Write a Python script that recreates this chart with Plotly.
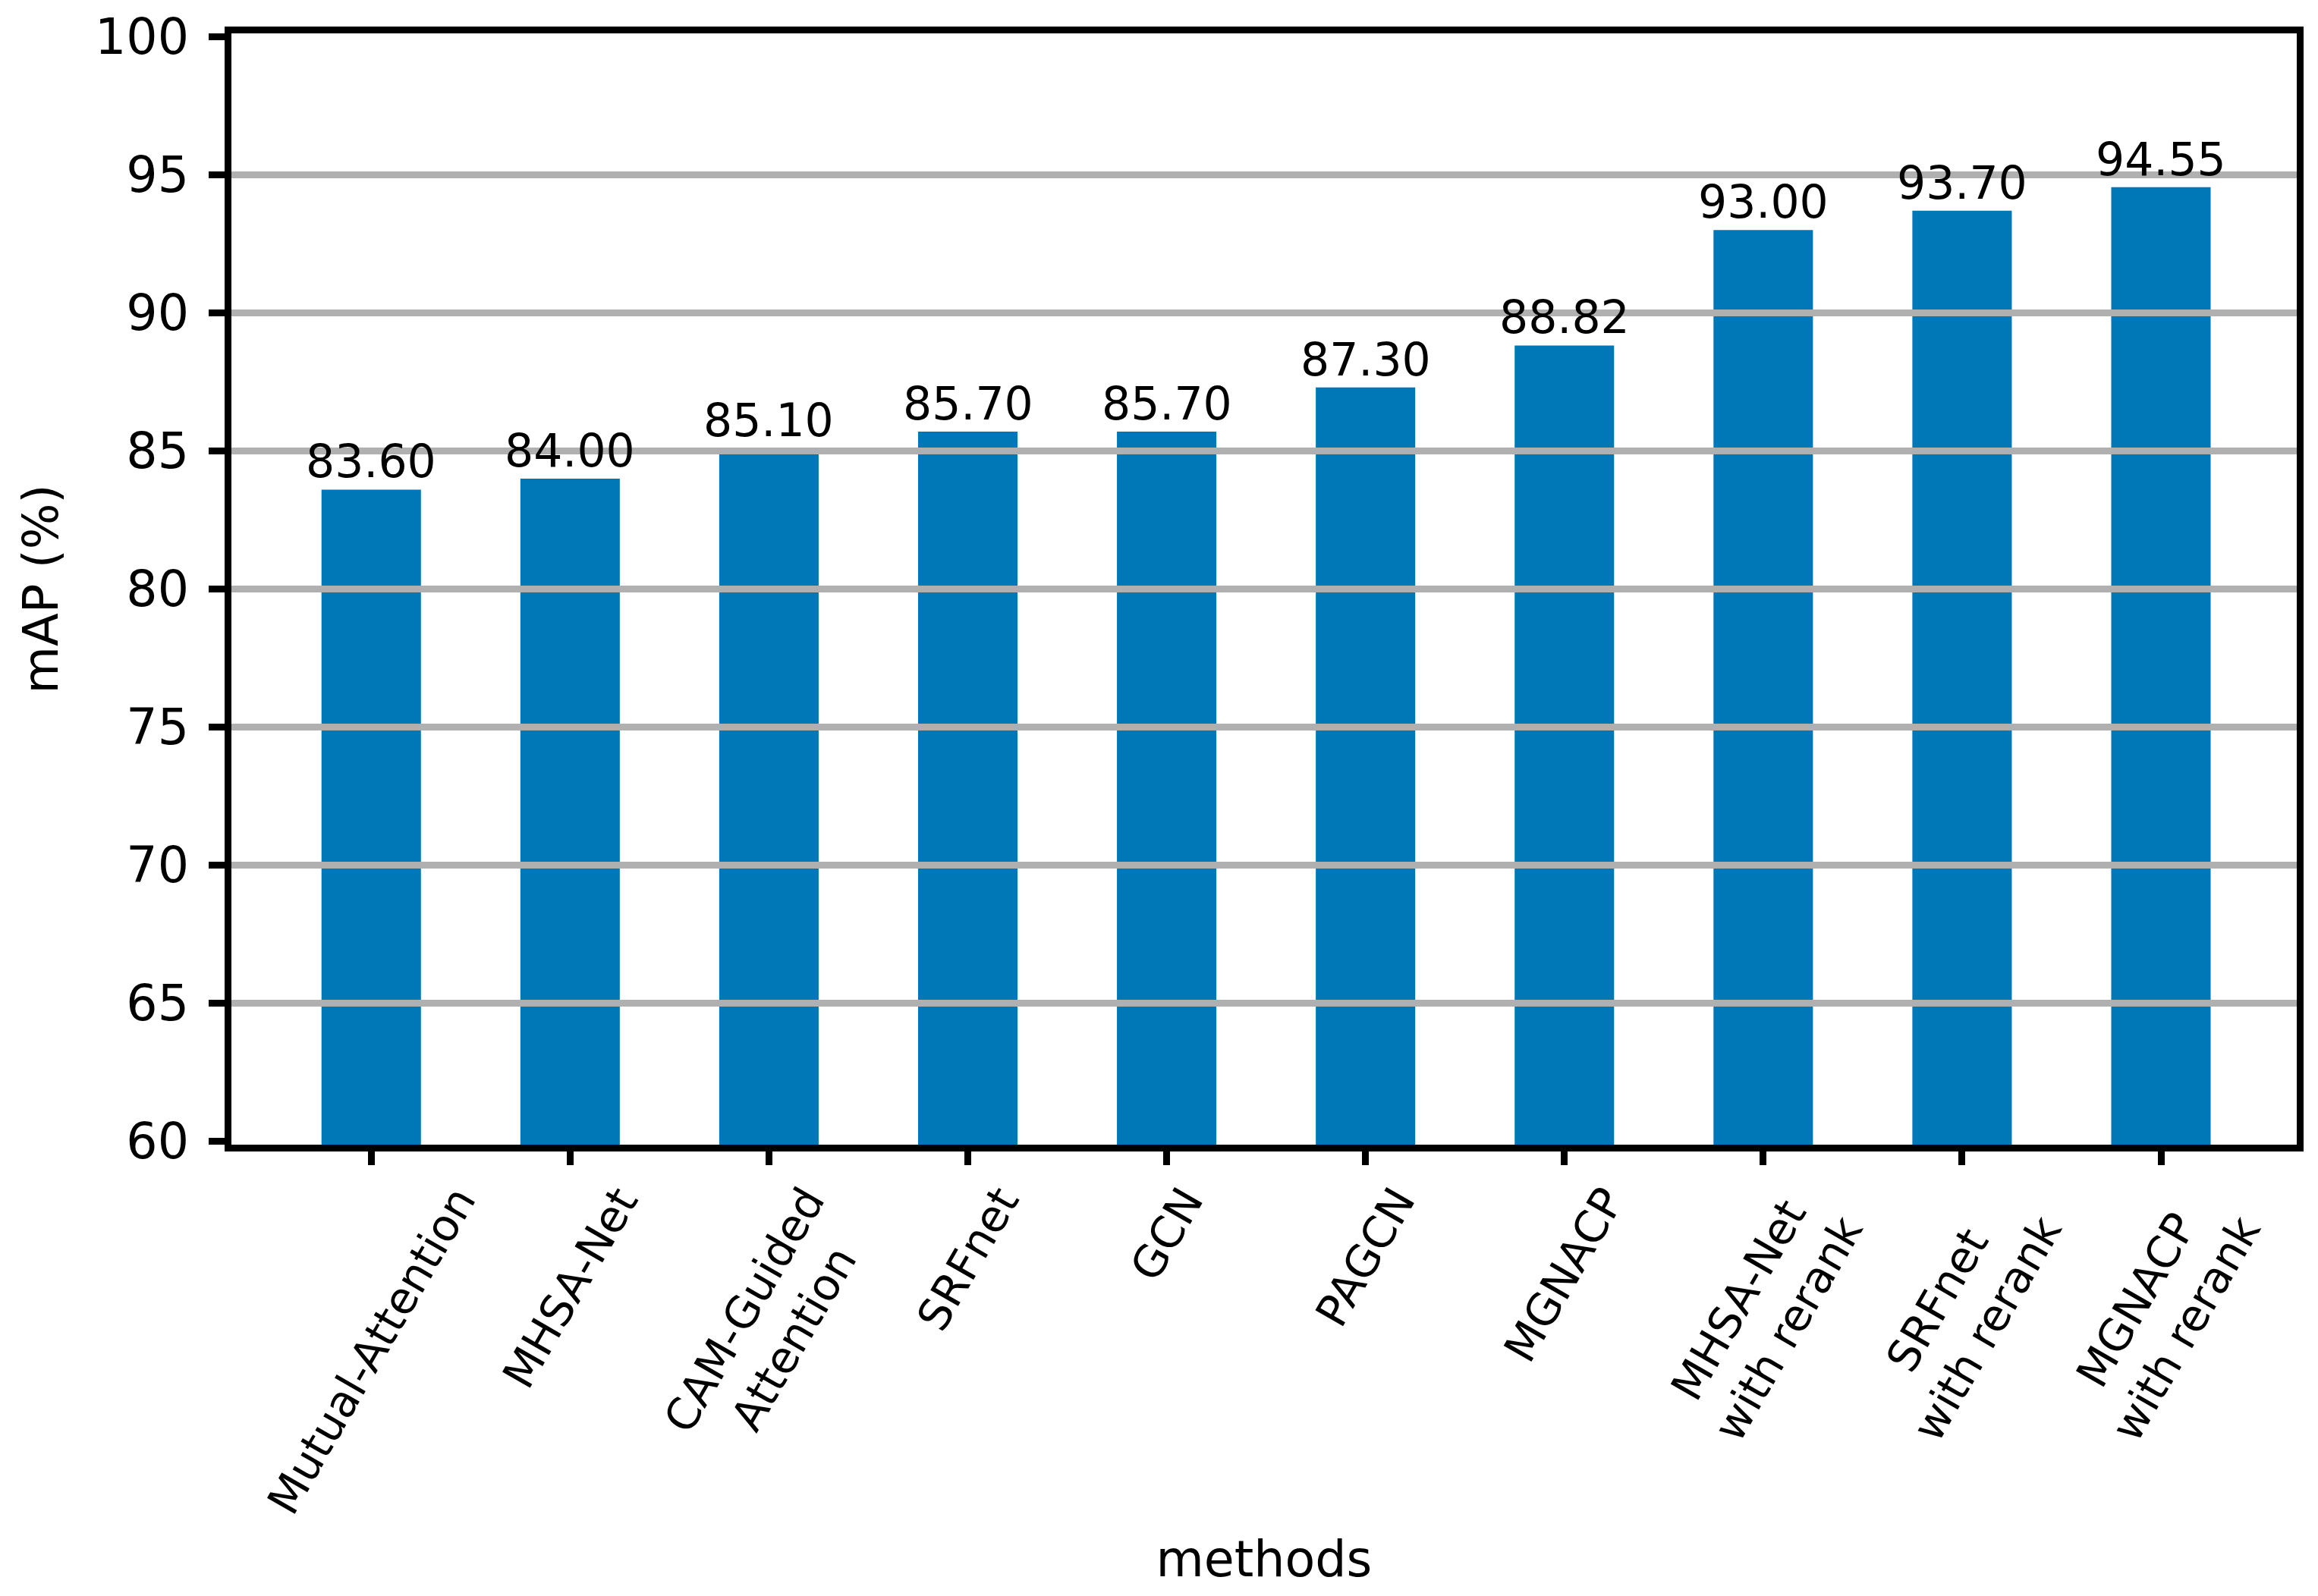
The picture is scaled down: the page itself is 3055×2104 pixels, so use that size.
import plotly.graph_objects as go

methods = ["Mutual-Attention", "MHSA-Net", "CAM-Guided<br>Attention", "SRFnet", "GCN",
           "PAGCN", "MGNACP", "MHSA-Net<br>with rerank", "SRFnet<br>with rerank",
           "MGNACP<br>with rerank"]
mAP = [83.60, 84.00, 85.10, 85.70, 85.70, 87.30, 88.82, 93.00, 93.70, 94.55]
y_ticks = [60, 65, 70, 75, 80, 85, 90, 95, 100]

FONT = "DejaVu Sans"
BAR_COLOR = "#0077b6"
GRID_COLOR = "#b0b0b0"

# page has an 8px body margin, so the figure is 8px smaller than the window
W, H = 3047, 2096
ML, MR, MT, MB = 297, 28, 36, 595
LW = 9

idx = list(range(len(methods)))

fig = go.Figure()
fig.add_trace(go.Bar(
    x=idx, y=mAP, width=0.5,
    marker=dict(color=BAR_COLOR, line=dict(width=0)),
    hoverinfo="skip",
))

# gridlines drawn above bars (like the reference)
shapes = []
for t in y_ticks[1:-1]:
    shapes.append(dict(type="line", xref="paper", yref="y", x0=0, x1=1,
                       y0=t, y1=t, line=dict(color=GRID_COLOR, width=9), layer="above"))

annotations = []
# value labels
for i, v in zip(idx, mAP):
    annotations.append(dict(x=i, y=v, xref="x", yref="y", text=f"{v:.2f}",
                            showarrow=False, xanchor="center", yanchor="bottom",
                            yshift=0, font=dict(family=FONT, size=60, color="black")))
# rotated category labels
for i, m in zip(idx, methods):
    annotations.append(dict(x=i, y=0, xref="x", yref="paper", text=m,
                            showarrow=False, xanchor="center", yanchor="top",
                            yshift=-42, textangle=-60, align="center",
                            font=dict(family=FONT, size=58, color="black")))

fig.update_layout(
    width=W, height=H,
    margin=dict(l=ML, r=MR, t=MT, b=MB, pad=0),
    paper_bgcolor="white", plot_bgcolor="white",
    showlegend=False,
    font=dict(family=FONT, size=65, color="black"),
    shapes=shapes, annotations=annotations,
)
fig.update_xaxes(
    range=[-0.703, 9.683], tickmode="array", tickvals=idx, ticktext=[""] * len(idx),
    ticks="outside", ticklen=18, tickwidth=LW, tickcolor="black",
    showline=True, linecolor="black", linewidth=LW, mirror=True,
    showgrid=False, zeroline=False,
    title=dict(text="methods", font=dict(family=FONT, size=65), standoff=488),
    automargin=False,
)
fig.update_yaxes(
    range=[59.878, 100.122], tickmode="array", tickvals=y_ticks,
    ticks="outside", ticklen=21, tickwidth=LW, tickcolor="black",
    tickfont=dict(family=FONT, size=65, color="black"), ticklabelstandoff=13,
    showline=True, linecolor="black", linewidth=LW, mirror=True,
    showgrid=False, zeroline=False,
    title=dict(text="mAP (%)", font=dict(family=FONT, size=64), standoff=31),
    automargin=False,
)

fig.write_html("out.html")
